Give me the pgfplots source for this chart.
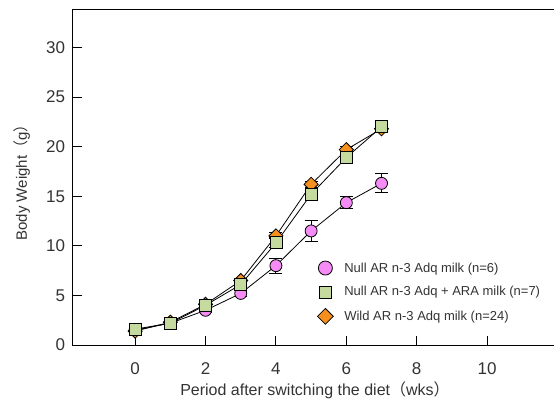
\documentclass[border=0pt]{standalone}
\usepackage{pgfplots}
\pgfplotsset{compat=1.18}
\usepackage{fontspec}
\setmainfont{Liberation Sans}
\newfontfamily\cjk{Noto Sans CJK JP}
\newfontfamily\legfam[Scale=1.0]{Liberation Sans}
\definecolor{cpink}{HTML}{F58CF5}
\definecolor{cgreen}{HTML}{C5DA9E}
\definecolor{corange}{HTML}{F5901E}
\definecolor{ctext}{HTML}{333333}
\begin{document}
\begin{tikzpicture}
\begin{axis}[
  at={(0,0)}, anchor=south west,
  scale only axis, width=485pt, height=335.7pt,
  xmin=-1.78, xmax=12, ymin=0, ymax=33.85,
  xtick={0,2,4,6,8,10}, ytick={0,5,10,15,20,25,30},
  xtick pos=bottom, ytick pos=left,
  tick align=inside, major tick length=9pt,
  axis line style={line width=1pt, black},
  every tick/.style={line width=1pt, black},
  /pgf/number format/assume math mode=true,
  ticklabel style={font=\fontsize{17}{20}\selectfont, text=ctext},
  xticklabel style={yshift=-14pt},
  yticklabel style={xshift=-4pt},
  xlabel={Period after switching the diet{\cjk （}wks{\cjk ）}},
  ylabel={Body Weight{\cjk （}g{\cjk ）}},
  xlabel style={font=\fontsize{16}{19}\selectfont, text=ctext, at={(axis description cs:0.5,-0.149)}, anchor=base},
  ylabel style={font=\fontsize{15}{18}\selectfont, text=ctext, at={(axis description cs:-0.104,0.495)}, anchor=center},
  legend cell align=left,
  legend style={draw=none, fill=none, text=ctext,
    font=\legfam\fontsize{13}{16}\selectfont,
    at={(axis description cs:0.4985,0.258)}, anchor=north west, row sep=9pt,
    /tikz/every odd column/.append style={column sep=9pt}},
]
\addlegendimage{only marks, mark=*, mark size=7pt, mark options={fill=cpink, draw=black, line width=0.8pt}}
\addlegendentry{Null AR n-3 Adq milk (n=6)}
\addlegendimage{only marks, mark=square*, mark size=6pt, mark options={fill=cgreen, draw=black, line width=0.8pt}}
\addlegendentry{Null AR n-3 Adq + ARA milk (n=7)}
\addlegendimage{only marks, mark=square*, mark size=5.6pt, mark options={fill=corange, draw=black, line width=0.8pt, rotate=45}}
\addlegendentry{Wild AR n-3 Adq milk (n=24)}

% Null AR n-3 Adq milk
\addplot+[forget plot, black, line width=0.8pt, mark=*, mark size=6pt,
  mark options={fill=cpink, draw=black, line width=0.8pt},
  error bars/.cd, y dir=both, y explicit,
  error bar style={line width=1pt, black},
  error mark options={rotate=90, mark size=6.5pt, line width=1pt, black}]
coordinates {
 (0,1.5) +- (0,0.1)
 (1,2.2) +- (0,0.1)
 (2,3.5) +- (0,0.2)
 (3,5.2) +- (0,0.3)
 (4,8.0) +- (0,0.75)
 (5,11.5) +- (0,1.05)
 (6,14.35) +- (0,0.6)
 (7,16.3) +- (0,0.95)
};
% Wild AR n-3 Adq milk
\addplot+[forget plot, black, line width=0.8pt, mark=square*, mark size=5pt,
  mark options={fill=corange, draw=black, line width=0.8pt, rotate=45},
  error bars/.cd, y dir=both, y explicit,
  error bar style={line width=1pt, black},
  error mark options={rotate=90, mark size=6.5pt, line width=1pt, black}]
coordinates {
 (0,1.4) +- (0,0.1)
 (1,2.3) +- (0,0.1)
 (2,4.1) +- (0,0.1)
 (3,6.5) +- (0,0.2)
 (4,11.0) +- (0,0.3)
 (5,16.2) +- (0,0.3)
 (6,19.7) +- (0,0.3)
 (7,21.8) +- (0,0.3)
};
% Null AR n-3 Adq + ARA milk
\addplot+[forget plot, black, line width=0.8pt, mark=square*, mark size=6pt,
  mark options={fill=cgreen, draw=black, line width=0.8pt},
  error bars/.cd, y dir=both, y explicit,
  error bar style={line width=1pt, black},
  error mark options={rotate=90, mark size=6.5pt, line width=1pt, black}]
coordinates {
 (0,1.6) +- (0,0.1)
 (1,2.2) +- (0,0.1)
 (2,4.0) +- (0,0.2)
 (3,6.1) +- (0,0.3)
 (4,10.3) +- (0,0.5)
 (5,15.2) +- (0,0.6)
 (6,18.9) +- (0,0.4)
 (7,22.0) +- (0,0.4)
};
\end{axis}
\pgfresetboundingbox
\path (-72.5pt,-54pt) rectangle (481.5pt,345pt);
\end{tikzpicture}
\end{document}
